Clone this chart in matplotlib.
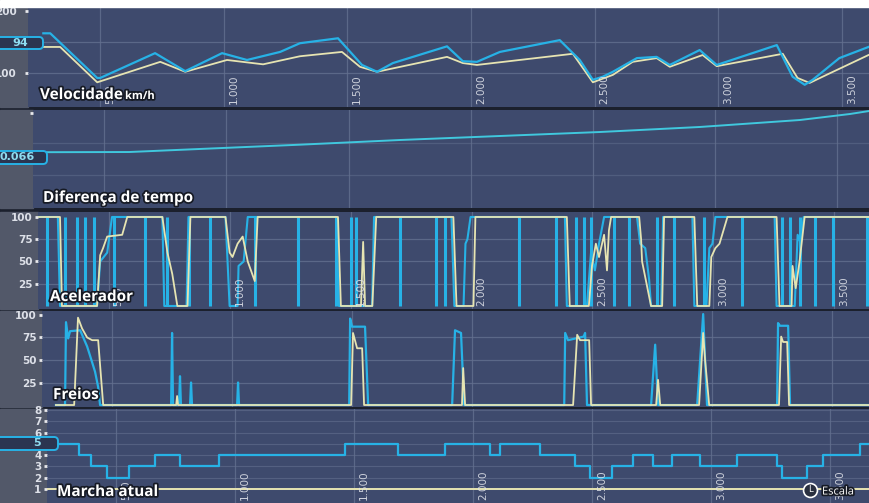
import matplotlib
matplotlib.use("Agg")
import matplotlib.pyplot as plt
import matplotlib.patheffects as pe
from matplotlib.patches import Rectangle, FancyBboxPatch
from matplotlib.lines import Line2D
from matplotlib.transforms import IdentityTransform

# distance along the lap (m) for every channel

# Velocidade km/h : current lap (blue) and reference lap (yellow)
vel_d = [270, 298, 488, 500, 722, 844, 993, 1094, 1228, 1308, 1462, 1559, 1620, 1684, 1903, 1967, 2024, 2117,
         2359, 2440, 2493, 2533, 2574, 2671, 2751, 2804, 2925, 2994, 3237, 3301, 3350, 3382, 3490, 3608]
vel = [164, 164, 92, 92, 132, 103, 132, 121, 134, 148, 156, 113, 102, 116, 143, 119, 118, 134,
       153, 121, 89, 94, 102, 124, 126, 113, 137, 113, 145, 94, 81, 89, 124, 142]
vel_ref_d = [270, 338, 488, 743, 844, 1013, 1159, 1308, 1478, 1551, 1620, 1903, 1967, 2024,
             2412, 2493, 2574, 2654, 2751, 2804, 2937, 2994, 3261, 3321, 3370, 3438, 3608]
vel_ref = [142, 142, 85, 118, 102, 121, 114, 127, 134, 110, 102, 126, 116, 113,
           131, 85, 97, 118, 124, 110, 129, 111, 131, 92, 84, 97, 129]

# Diferença de tempo (s)
td_d = [208, 602, 889, 1299, 1709, 2119, 2529, 2938, 3348, 3553, 3631]
td = [0.066, 0.071, 0.145, 0.25, 0.365, 0.463, 0.561, 0.684, 0.855, 1.002, 1.075]

# Acelerador (%)
acc_d = [208, 290, 299, 452, 465, 494, 514, 722, 730, 822, 830, 983, 1000, 1033, 1037, 1058, 1075, 1440, 1452,
         1589, 1597, 1917, 1929, 1967, 1975, 1983, 1996, 2386, 2394, 2477, 2494, 2510, 2527, 2548, 2684, 2697,
         2718, 2734, 2742, 2784, 2792, 2913, 2921, 2971, 2983, 2996, 3008, 3253, 3261, 3336, 3348, 3361, 3373, 3643]
acc = [100, 100, 0, 0, 50, 60, 100, 100, 0, 0, 100, 100, 0, 0, 45, 50, 100, 100, 0,
       0, 100, 100, 0, 0, 70, 75, 100, 100, 0, 0, 60, 40, 70, 100, 100, 70,
       65, 30, 0, 0, 100, 100, 0, 0, 65, 70, 100, 100, 0, 0, 80, 70, 100, 100]
# short full-scale glitches in the blue throttle trace
acc_spikes = [245, 320, 369, 403, 440, 523, 652, 743, 834, 921, 1104, 1282, 1440, 1502, 1523, 1705, 1855, 1892,
              2195, 2348, 2431, 2465, 2494, 2589, 2651, 2767, 2838, 2962, 3120, 3282, 3315, 3356, 3419, 3493, 3635]
acc_ref_d = [208, 299, 307, 452, 465, 477, 494, 556, 577, 722, 743, 763, 784, 826, 838, 983, 1000, 1012, 1033,
             1054, 1075, 1104, 1116, 1448, 1460, 1543, 1552, 1560, 1590, 1606, 1925, 1938, 2008, 2016, 2394,
             2406, 2485, 2498, 2514, 2527, 2548, 2560, 2568, 2577, 2693, 2701, 2705, 2742, 2788, 2796, 2921,
             2933, 2983, 2991, 3008, 3025, 3058, 3261, 3273, 3323, 3327, 3340, 3356, 3377, 3643]
acc_ref = [100, 100, 0, 0, 57, 65, 78, 80, 100, 100, 60, 36, 0, 0, 100, 100, 60, 55, 70,
           78, 50, 28, 100, 100, 0, 0, 72, 0, 0, 100, 100, 0, 0, 100, 100,
           0, 0, 45, 70, 55, 80, 40, 85, 100, 100, 75, 50, 0, 0, 100, 100,
           0, 0, 55, 65, 70, 100, 100, 0, 0, 45, 20, 50, 100, 100]

# Freios (%)
brk_d = [266, 304, 308, 317, 325, 367, 396, 408, 429, 442, 450, 746, 750, 754, 779, 783, 787, 825, 829, 833,
         1021, 1025, 1029, 1488, 1492, 1500, 1554, 1567, 1917, 1929, 1954, 1967, 2384, 2388, 2400, 2465, 2471,
         2479, 2746, 2763, 2775, 2938, 2963, 2979, 3271, 3275, 3283, 3317, 3325, 3654]
brk = [0, 0, 92, 74, 82, 83, 65, 55, 37, 20, 0, 0, 80, 0, 0, 32, 0, 0, 25, 0,
       0, 25, 0, 0, 96, 87, 87, 0, 0, 83, 80, 0, 0, 80, 72, 76, 80,
       0, 0, 67, 0, 0, 101, 0, 0, 91, 88, 88, 0, 0]
brk_ref_d = [266, 342, 358, 375, 396, 417, 442, 463, 767, 771, 775, 1496, 1504, 1521, 1542, 1550, 1958, 1963,
             1971, 2421, 2438, 2450, 2488, 2496, 2767, 2775, 2784, 2946, 2963, 2971, 2988, 3279, 3288, 3296,
             3313, 3321, 3654]
brk_ref = [0, 0, 97, 85, 75, 72, 72, 0, 0, 10, 0, 0, 80, 63, 63, 0, 0, 41,
           0, 0, 78, 72, 72, 0, 0, 28, 0, 0, 80, 50, 0, 0, 76, 70,
           70, 0, 0]

# Marcha atual
gear_d = [208, 341, 391, 462, 551, 664, 769, 929, 1462, 1685, 1882, 2071, 2113, 2281, 2428, 2491, 2583, 2672,
          2756, 2835, 2953, 3108, 3276, 3297, 3402, 3470, 3625, 3663]
gear = [5, 4, 3, 2, 3, 4, 3, 4, 5, 4, 5, 4, 5, 4, 3, 2, 3, 4, 3, 4, 3, 4, 3, 2, 3, 4, 5, 5]
gear_ref_d = [208, 3663]
gear_ref = [1, 1]

grid_x = [500, 1000, 1500, 2000, 2500, 3000, 3500]
grid_lbl = ['500', '1.000', '1.500', '2.000', '2.500', '3.000', '3.500']
titles = ['Velocidade', 'Diferença de tempo', 'Acelerador', 'Freios', 'Marcha atual']

# colours of the screen
BG = '#3e4a6d'
STRIP = '#525869'
SEP = '#1b202d'
GRID = '#63708f'
CYAN = '#27b2e6'
CYAN2 = '#40c8de'
YEL = '#e6e4b2'
TXT = '#dde0e8'

W, H = 869, 503
# top, bottom, left (px) and right x limit of each strip (the photo is a bit skewed)
panels = [(8, 107, 28, 3610), (110, 208, 33, 3631), (212, 309, 38, 3643), (311, 407, 42, 3654), (409, 503, 47, 3663)]
ylims = [(45.2, 204.8), (-1.3, 1.1), (-3.4, 105.6), (-2.2, 104.4), (-0.24, 8.09)]

fig = plt.figure(figsize=(W / 100, H / 100), dpi=100)
fig.patch.set_facecolor(SEP)
fig.add_artist(Rectangle((0, 1 - 7 / H), 1, 7 / H, transform=fig.transFigure, color='white'))

axes = []
for (top, bot, left, xmax), yl in zip(panels, ylims):
    fig.add_artist(Rectangle((0, 1 - bot / H), left / W, (bot - top) / H,
                             transform=fig.transFigure, color=STRIP, zorder=0))
    ax = fig.add_axes([left / W, 1 - bot / H, 1 - left / W, (bot - top) / H])
    ax.set_facecolor(BG)
    ax.set_xlim(208, xmax)
    ax.set_ylim(*yl)
    for s in ax.spines.values():
        s.set_visible(False)
    ax.set_xticks(grid_x)
    ax.tick_params(axis='x', length=0, labelbottom=False)
    ax.grid(True, axis='x', color=GRID, lw=0.9, alpha=0.8)
    ax.tick_params(axis='y', colors='#e8e8ec', labelcolor=TXT, labelsize=7.5, length=2.5, width=2, pad=1.5)
    axes.append(ax)

ax1, ax2, ax3, ax4, ax5 = axes

# Velocidade
for v in [100, 150]:
    ax1.axhline(v, color=GRID, lw=0.9, alpha=0.8)
ax1.plot(vel_ref_d, vel_ref, color=YEL, lw=1.3)
ax1.plot(vel_d, vel, color=CYAN, lw=1.6)
ax1.set_yticks([100, 200])
ax1.set_yticklabels(['100', '200'], fontweight='bold')
ax1.tick_params(axis='y', pad=5.4)

# Diferença de tempo
for v in [-0.5, 0.3]:
    ax2.axhline(v, color=GRID, lw=0.9, alpha=0.5)
ax2.plot(td_d, td, color=CYAN2, lw=1.4)
ax2.set_yticks([1.03])
ax2.set_yticklabels([''])

# Acelerador
for v in [25, 50, 75]:
    ax3.axhline(v, color=GRID, lw=0.9, alpha=0.8)
ax3.vlines(acc_spikes, 0, 100, color=CYAN, lw=2.2)
ax3.plot(acc_d, acc, color=CYAN, lw=1.5)
ax3.plot(acc_ref_d, acc_ref, color=YEL, lw=1.3)
ax3.set_yticks([25, 50, 75, 100])
ax3.set_yticklabels(['25', '50', '75', '100'], fontweight='bold')

# Freios
for v in [25, 50, 75]:
    ax4.axhline(v, color=GRID, lw=0.9, alpha=0.8)
ax4.plot(brk_d, brk, color=CYAN, lw=1.6)
ax4.plot(brk_ref_d, brk_ref, color=YEL, lw=1.3)
ax4.set_yticks([25, 50, 75, 100])
ax4.set_yticklabels(['25', '50', '75', '100'], fontweight='bold')

# Marcha atual
for v in range(1, 9):
    ax5.axhline(v, color=GRID, lw=0.8, alpha=0.6)
ax5.step(gear_d, gear, where='post', color=CYAN, lw=1.6)
ax5.plot(gear_ref_d, gear_ref, color=YEL, lw=1.4)
ax5.set_yticks(range(1, 9))
ax5.set_yticklabels([str(g) for g in range(1, 9)], fontweight='bold')

# distance labels written inside the strips
for ax in [ax1, ax3, ax5]:
    for x, lbl in zip(grid_x, grid_lbl):
        ax.annotate(lbl, xy=(x, 0), xycoords=('data', 'axes fraction'), xytext=(3.5, 2.5),
                    textcoords='offset points', rotation=90, ha='left', va='bottom',
                    fontsize=7.5, color=TXT, alpha=0.9)

# channel names
shadow = [pe.withStroke(linewidth=2.5, foreground='#161a24')]
title_pos = [(40, 99), (43, 202), (50, 301), (53, 399), (57, 496)]
for t, (x, y) in zip(titles, title_pos):
    fig.text(x / W, 1 - y / H, t, fontsize=11, fontweight='bold', color='white', family='Open Sans',
             va='baseline', ha='left', path_effects=shadow)
fig.text(125 / W, 1 - 99 / H, 'km/h', fontsize=8, fontweight='bold', color='white', family='Open Sans',
         va='baseline', ha='left', path_effects=shadow)

# value boxes at the cursor
for (x0, y0, x1, y1), txt, tx in [((-6, 37, 43, 49), '94', 12), ((-6, 151, 47, 164), '0.066', -1),
                                  ((-6, 437, 58, 450), '5', 33)]:
    fig.add_artist(FancyBboxPatch((x0, H - y1), x1 - x0, y1 - y0, boxstyle='round,pad=0,rounding_size=4',
                                  transform=IdentityTransform(), fc='#2b3550', ec=CYAN, lw=1.4))
    fig.text(tx / W, 1 - (y0 + y1) / 2 / H, txt, fontsize=8, fontweight='bold', color='#8fdcf0',
             va='center', ha='left')

# Escala button
fig.add_artist(Line2D([810 / W], [1 - 490 / H], marker='o', ms=10, mfc='#2a3040', mec='white', mew=1.2,
                      transform=fig.transFigure))
fig.text(810 / W, 1 - 490 / H, 'L', fontsize=6, color='white', ha='center', va='center')
fig.text(822 / W, 1 - 492 / H, 'Escala', fontsize=8, color='white', family='Open Sans',
         va='center', ha='left', path_effects=shadow)

fig.savefig('out.png', dpi=100, facecolor=fig.get_facecolor())
